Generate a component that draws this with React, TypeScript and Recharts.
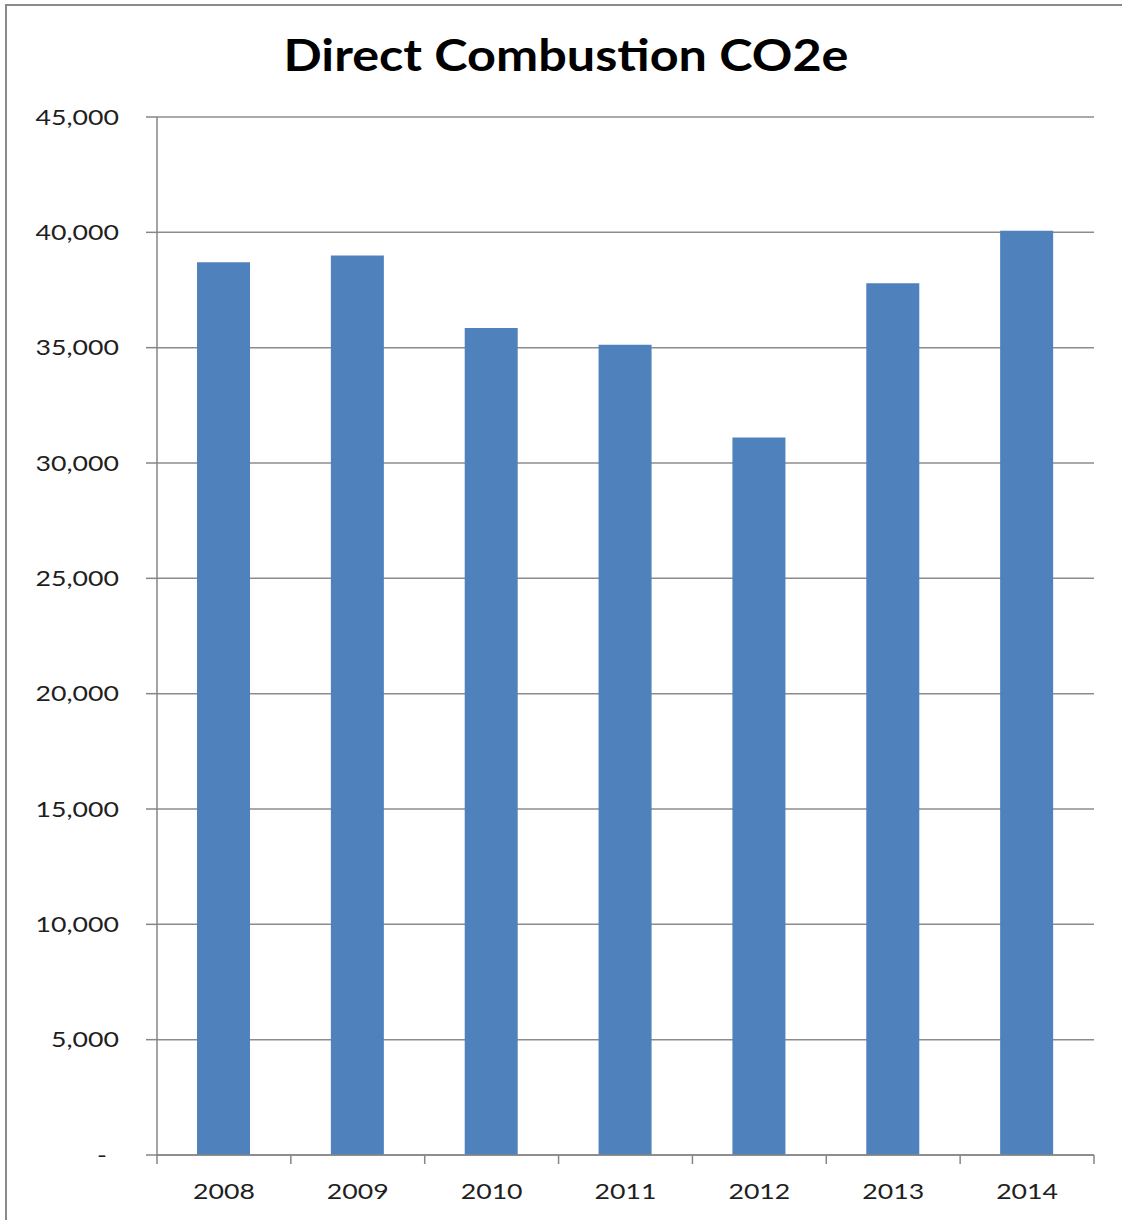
import React from "react";
import { BarChart, Bar, XAxis, YAxis, CartesianGrid } from "recharts";

// values
const years = ["2008", "2009", "2010", "2011", "2012", "2013", "2014"];
const emissions = [38700, 39000, 35850, 35130, 31110, 37790, 40070];
const yTicks = [0, 5000, 10000, 15000, 20000, 25000, 30000, 35000, 40000, 45000];

const data = years.map((year, i) => ({ year, value: emissions[i] }));

const W = 1106;
const H = 1196;
const FONT = "Lato, 'Open Sans', sans-serif";
const AXIS_GRAY = "#868686";
const FRAME = "#8a8a8a";
const STRETCH = 1.27; // the reference text is drawn wider than normal
const X_TICK_MARGIN = 28;

const fmt = (v: number) => (v === 0 ? "-" : v.toLocaleString("en-US"));

const YTick = (props: any) => {
  const { x, y, payload } = props;
  const shift = payload.value === 0 ? -12 : 0;
  return (
    <g transform={`translate(${x + shift},${y}) scale(${STRETCH},1)`}>
      <text x={0} y={0} dy="0.36em" textAnchor="end" fontFamily={FONT} fontSize={21} fill="#1f1f1f">
        {fmt(payload.value)}
      </text>
    </g>
  );
};

const XTick = (props: any) => {
  const { x, y, payload, index, visibleTicksCount } = props;
  const half = payload.offset ?? 0;
  const axisY = y - X_TICK_MARGIN;
  return (
    <g>
      <line x1={x - half} x2={x - half} y1={axisY} y2={axisY + 9} stroke={AXIS_GRAY} strokeWidth={1.5} />
      {index === visibleTicksCount - 1 && (
        <line x1={x + half} x2={x + half} y1={axisY} y2={axisY + 9} stroke={AXIS_GRAY} strokeWidth={1.5} />
      )}
      <g transform={`translate(${x},${y}) scale(${STRETCH},1)`}>
        <text x={0} y={0} dy="0.75em" textAnchor="middle" fontFamily={FONT} fontSize={21} fill="#1f1f1f">
          {payload.value}
        </text>
      </g>
    </g>
  );
};

export default function App() {
  return (
    <div style={{ position: "relative", width: 1122, height: 1220, overflow: "hidden" }}>
      <style>{"body { margin: 0; }"}</style>
      {/* frame: only the left and top edges show in the reference */}
      <div
        style={{
          position: "absolute",
          left: 5,
          top: 4,
          width: 1115,
          height: 1214,
          borderLeft: `2px solid ${FRAME}`,
          borderTop: `2px solid ${FRAME}`,
        }}
      />
      <div style={{ position: "absolute", left: 8, top: 8, width: W, height: H }}>
        <svg width={W} height={100} style={{ position: "absolute", left: 0, top: 0 }}>
          <text
            x={558}
            y={63}
            textAnchor="middle"
            fontFamily={FONT}
            fontWeight={700}
            fontSize={43}
            fill="#000"
            textLength={565}
            lengthAdjust="spacingAndGlyphs"
          >
            Direct Combustion CO2e
          </text>
        </svg>
        <BarChart width={W} height={H} data={data} margin={{ top: 109, right: 20, bottom: 9, left: 0 }}>
          <CartesianGrid vertical={false} stroke="#8c8c8c" strokeWidth={1.5} />
          <XAxis
            dataKey="year"
            height={40}
            tickLine={false}
            tickSize={0}
            tickMargin={X_TICK_MARGIN}
            tick={<XTick />}
            stroke={AXIS_GRAY}
            strokeWidth={1.5}
            interval={0}
          />
          <YAxis
            width={149}
            domain={[0, 45000]}
            ticks={yTicks}
            interval={0}
            tickSize={11}
            tickMargin={27}
            tick={<YTick />}
            stroke={AXIS_GRAY}
            strokeWidth={1.5}
          />
          <Bar dataKey="value" fill="#4F81BD" barSize={53} isAnimationActive={false} />
        </BarChart>
      </div>
    </div>
  );
}
